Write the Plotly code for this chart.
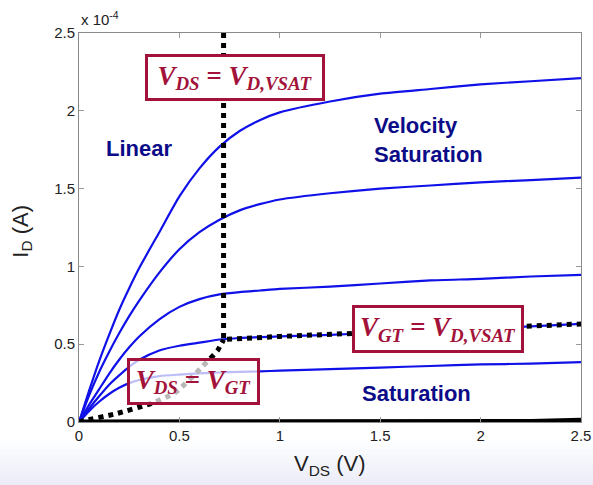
import plotly.graph_objects as go

# ---------------- data (I_D in units of 1e-4 A) ----------------
vds = [0, 0.05, 0.1, 0.15, 0.2, 0.25, 0.3, 0.4, 0.5, 0.6, 0.7, 0.8, 0.9,
       1.0, 1.25, 1.5, 1.75, 2.0, 2.25, 2.5]

id_curve1 = [0, 0.20, 0.39, 0.56, 0.72, 0.86, 0.99, 1.22, 1.45, 1.63, 1.77,
             1.87, 1.94, 1.99, 2.06, 2.11, 2.14, 2.17, 2.19, 2.21]
id_curve2 = [0, 0.17, 0.32, 0.45, 0.57, 0.68, 0.78, 0.96, 1.11, 1.22, 1.30,
             1.36, 1.40, 1.43, 1.47, 1.50, 1.52, 1.54, 1.555, 1.57]
id_curve3 = [0, 0.11, 0.21, 0.31, 0.40, 0.48, 0.55, 0.66, 0.74, 0.79, 0.82,
             0.835, 0.845, 0.855, 0.87, 0.89, 0.91, 0.92, 0.935, 0.945]
id_curve4 = [0, 0.085, 0.165, 0.24, 0.30, 0.355, 0.40, 0.46, 0.49, 0.51, 0.53,
             0.54, 0.545, 0.55, 0.56, 0.575, 0.59, 0.60, 0.615, 0.63]
id_curve5 = [0, 0.07, 0.13, 0.18, 0.22, 0.25, 0.27, 0.295, 0.305, 0.313, 0.318,
             0.322, 0.325, 0.33, 0.34, 0.35, 0.36, 0.37, 0.375, 0.385]
id_curve6 = [0, 0, 0, 0, 0, 0, 0, 0, 0, 0, 0, 0, 0, 0, 0, 0, 0, 0, 0.003, 0.012]

# V_DS = V_D,VSAT boundary (vertical) continuing along V_GT = V_D,VSAT curve
vsat_x = [0.72, 0.72, 1.0, 1.5, 2.0, 2.5]
vsat_y = [2.5, 0.53, 0.55, 0.575, 0.60, 0.63]

# V_DS = V_GT boundary
vgt_x = [0, 0.03, 0.19, 0.36, 0.48, 0.61, 0.69, 0.72]
vgt_y = [0, 0.01, 0.055, 0.12, 0.19, 0.35, 0.46, 0.53]

tick_vals = [0, 0.5, 1, 1.5, 2, 2.5]
tick_text = ["0", "0.5", "1", "1.5", "2", "2.5"]

# ---------------- figure ----------------
BLUE = "#1010e8"
NAVY = "#0c0c88"
RED = "#a3123a"
FONT = "Liberation Sans, Arial, sans-serif"
SERIF = "Liberation Serif, Times New Roman, serif"

fig = go.Figure()
for ys in [id_curve1, id_curve2, id_curve3, id_curve4, id_curve5]:
    fig.add_trace(go.Scatter(x=vds, y=ys, mode="lines", line_shape="spline",
                             line=dict(color=BLUE, width=2.2, smoothing=0.6),
                             showlegend=False, hoverinfo="skip"))
fig.add_trace(go.Scatter(x=vds, y=id_curve6, mode="lines",
                         line=dict(color="black", width=5),
                         showlegend=False, hoverinfo="skip"))
fig.add_trace(go.Scatter(x=vsat_x, y=vsat_y, mode="lines",
                         line=dict(color="black", width=5, dash="dot"),
                         showlegend=False, hoverinfo="skip"))
fig.add_trace(go.Scatter(x=vgt_x, y=vgt_y, mode="lines", line_shape="spline",
                         line=dict(color="black", width=5, dash="dot", smoothing=0.6),
                         showlegend=False, hoverinfo="skip"))

# bottom slide gradient band
shapes = []
n = 10
for i in range(n):
    y0 = -0.046 - i * (0.12 / n)
    y1 = y0 - 0.12 / n
    c = 255 - int((i + 1) * 2.0)
    cb = 255 - int((i + 1) * 0.8)
    shapes.append(dict(type="rect", xref="paper", yref="paper",
                       x0=-0.2, x1=1.1, y0=y0, y1=y1 - 0.002,
                       fillcolor=f"rgb({c},{c+1},{cb})", line=dict(width=0),
                       layer="below"))

annotations = [
    dict(x=0.30, y=1.76, text="<b>Linear</b>", showarrow=False,
         font=dict(family=FONT, size=22, color=NAVY)),
    dict(x=1.46, y=1.81, text="<b>Velocity<br>Saturation</b>", showarrow=False,
         xanchor="left", align="left",
         font=dict(family=FONT, size=22, color=NAVY)),
    dict(x=1.68, y=0.186, text="<b>Saturation</b>", showarrow=False,
         font=dict(family=FONT, size=22, color=NAVY)),
    dict(x=0.777, y=2.214,
         text="<b><i>V<sub>DS</sub> = V<sub>D,VSAT</sub></i></b>",
         showarrow=False, width=172, height=39, borderpad=1,
         bordercolor=RED, borderwidth=3, bgcolor="white",
         font=dict(family=SERIF, size=27, color=RED)),
    dict(x=1.788, y=0.598,
         text="<b><i>V<sub>GT</sub> = V<sub>D,VSAT</sub></i></b>",
         showarrow=False, width=164, height=40, borderpad=1,
         bordercolor=RED, borderwidth=3, bgcolor="white",
         font=dict(family=SERIF, size=27, color=RED)),
    dict(x=0.570, y=0.260,
         text="<b><i>V<sub>DS</sub> = V<sub>GT</sub></i></b>",
         showarrow=False, width=125, height=39, borderpad=1,
         bordercolor=RED, borderwidth=3, bgcolor="rgba(255,255,255,0.72)",
         font=dict(family=SERIF, size=27, color=RED)),
    dict(x=0, y=1, xref="paper", yref="paper", xanchor="left", yanchor="bottom",
         text="x 10<sup>-4</sup>", showarrow=False, yshift=3,
         font=dict(family=FONT, size=15, color="#222222")),
    dict(x=0.5, y=-0.11, xref="paper", yref="paper", xanchor="center",
         yanchor="middle", text="V<sub>DS</sub> (V)", showarrow=False,
         font=dict(family=FONT, size=22, color="#222222")),
    dict(x=-0.113, y=0.49, xref="paper", yref="paper", xanchor="center",
         yanchor="middle", text="I<sub>D</sub> (A)", showarrow=False,
         textangle=-90, font=dict(family=FONT, size=22, color="#222222")),
]

axis_common = dict(showgrid=False, zeroline=False, showline=True, mirror="ticks",
                   linecolor="#8a8a8a", linewidth=1, ticks="inside", ticklen=5,
                   tickcolor="#9a9a9a", tickvals=tick_vals, ticktext=tick_text,
                   automargin=False,
                   tickfont=dict(family=FONT, size=15, color="#222222"))

fig.update_layout(
    width=593, height=485,
    margin=dict(l=79, r=12, t=33, b=63, autoexpand=False),
    paper_bgcolor="white", plot_bgcolor="white",
    xaxis=dict(range=[0, 2.5], **axis_common),
    yaxis=dict(range=[0, 2.5], **axis_common),
    shapes=shapes, annotations=annotations,
)

fig.write_html("out.html", config={"displayModeBar": False},
               post_script="document.body.style.margin='0px';"
                           "document.body.style.overflow='hidden';")
